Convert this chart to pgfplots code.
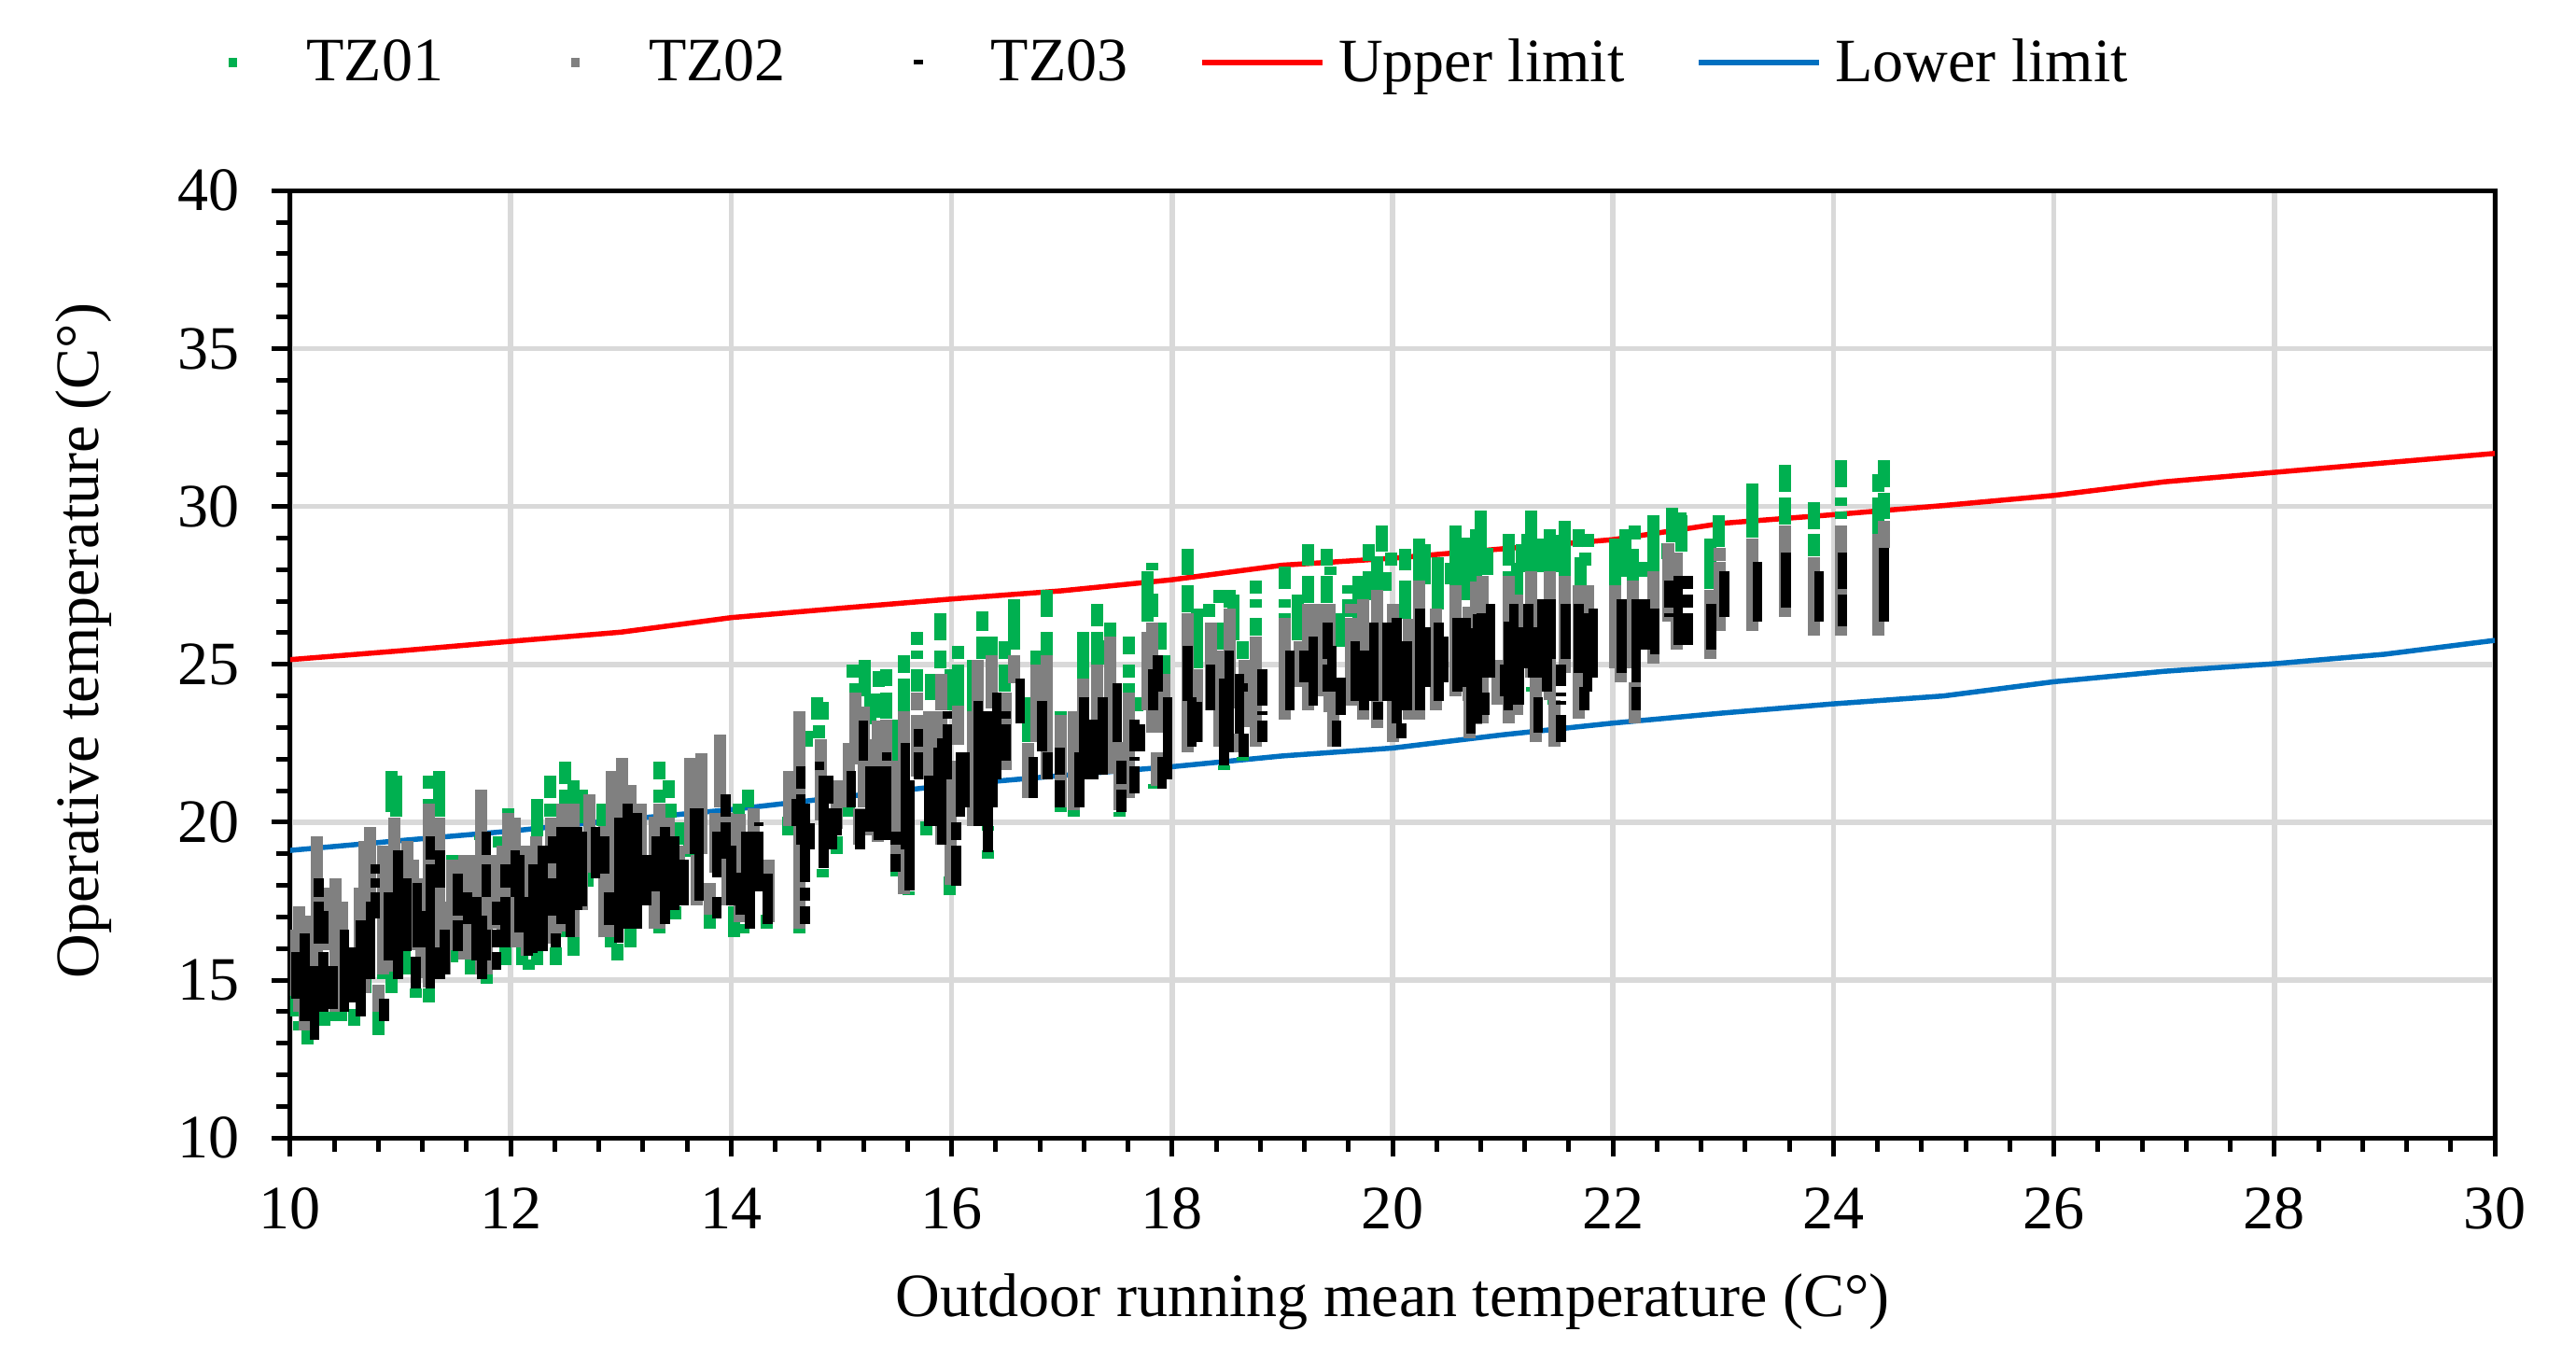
\documentclass[border=0pt]{standalone}
\usepackage{fontspec}
\setmainfont{Liberation Serif}
\usepackage{pgfplots}
\usepackage{pgfplotstable}
\pgfplotsset{compat=1.18}
\definecolor{tzgreen}{HTML}{00B050}
\definecolor{tzgray}{HTML}{808080}
\definecolor{limblue}{HTML}{0070C0}
\definecolor{gridgray}{HTML}{D9D9D9}
\newcommand{\chartfont}{\fontsize{18.8}{22}\selectfont}

% each row is one stack of readings at one running mean: x, lowest, highest
\pgfplotstableread{
x lo hi
10.03 14.00 14.68
10.05 13.85 14.39
10.08 13.41 13.70
10.16 12.97 13.41
10.31 13.55 14.00
10.41 13.70 14.09
10.46 13.70 14.29
10.58 13.55 14.09
10.80 13.26 14.00
10.68 14.58 15.27
10.84 15.03 15.76
10.92 14.58 15.27
11.04 15.17 15.96
11.14 14.44 14.73
11.26 14.29 14.73
10.22 15.91 16.30
10.92 20.32 21.61
10.96 20.17 21.47
11.26 21.05 21.47
11.26 20.56 20.73
11.35 20.17 21.61
11.47 18.80 18.97
11.72 19.43 19.58
11.98 20.27 20.44
11.89 19.19 19.55
12.24 19.56 20.73
12.36 20.76 21.47
12.36 20.17 20.58
12.49 21.20 21.91
12.49 20.56 21.03
12.57 20.56 21.32
12.43 19.73 20.00
11.47 15.56 16.15
11.64 15.17 15.91
11.78 14.88 15.17
11.95 15.47 16.05
12.10 15.47 16.05
12.16 15.32 15.66
12.24 15.47 16.05
12.41 15.47 16.05
12.51 16.35 16.64
12.57 15.76 16.35
12.70 17.97 18.41
12.65 19.98 21.02
12.83 19.88 20.58
12.85 16.35 16.93
12.91 16.05 16.64
12.97 15.61 16.17
13.09 16.05 16.64
13.35 21.35 21.91
13.43 20.76 21.32
13.35 20.61 21.02
13.45 20.14 20.58
13.53 19.29 19.99
13.35 16.49 16.93
13.49 16.93 17.35
13.62 18.90 19.44
13.81 16.64 17.08
14.15 20.47 21.02
14.07 19.88 20.58
14.03 16.35 17.35
14.11 16.49 16.79
14.32 16.64 17.08
14.52 19.58 20.17
14.62 16.49 16.93
14.69 22.38 22.90
14.78 23.26 23.97
14.83 23.26 23.82
14.80 22.67 23.08
14.83 18.26 18.52
14.96 18.99 19.55
15.10 24.58 24.99
15.21 23.99 25.14
15.13 24.09 24.41
15.26 23.11 24.09
15.07 20.17 20.66
15.34 24.29 24.78
15.33 23.31 24.09
15.41 24.30 24.86
15.41 23.27 24.10
15.49 21.94 23.24
15.57 24.74 25.30
15.57 23.53 24.56
15.69 25.62 26.03
15.69 25.18 25.44
15.69 24.15 24.86
15.81 23.86 24.71
15.90 25.77 26.63
15.90 24.88 25.44
15.99 23.56 24.86
16.06 25.18 25.59
16.06 23.61 25.00
16.19 23.53 25.15
16.28 26.06 26.69
16.28 25.18 25.89
16.36 25.30 25.89
16.48 25.18 25.74
16.48 24.15 25.00
16.57 25.47 27.06
16.69 22.53 23.97
16.77 24.98 25.44
16.86 26.50 27.36
16.86 25.30 26.04
16.99 23.39 23.53
16.99 20.33 20.47
17.19 24.54 26.03
17.32 26.21 26.92
17.32 24.98 26.03
17.44 25.89 26.33
17.39 24.98 25.77
17.61 25.33 25.89
17.61 24.59 25.00
17.61 24.12 24.41
17.68 23.52 23.97
17.78 26.36 27.95
17.82 27.97 28.22
17.82 26.50 27.24
17.90 25.47 26.33
17.93 24.71 25.30
17.11 20.18 20.77
17.52 20.18 20.33
16.33 19.74 19.89
16.33 18.85 19.10
15.50 18.27 18.42
15.61 17.68 17.82
15.98 17.68 18.27
15.77 19.59 20.03
17.84 21.05 21.20
18.14 27.82 28.67
18.14 26.64 27.50
18.23 24.88 26.76
18.34 26.50 26.91
18.43 26.94 27.35
18.43 25.47 26.32
18.52 26.79 27.35
18.56 25.76 27.20
18.64 25.17 25.73
18.64 21.95 22.06
18.47 21.64 21.79
18.76 27.23 27.64
18.76 26.79 27.06
18.76 25.91 26.47
19.02 27.38 28.09
19.02 26.79 27.06
19.02 26.47 26.62
19.14 25.76 27.20
19.23 28.12 28.82
19.23 26.94 27.79
19.40 28.12 28.67
19.44 27.82 28.09
19.40 26.94 27.79
19.51 25.57 26.62
19.60 27.23 27.50
19.60 26.50 27.06
19.69 26.45 27.79
19.78 28.26 28.82
19.78 27.04 27.94
19.90 28.56 29.39
19.86 27.33 28.41
19.99 28.12 28.53
19.94 27.33 27.92
20.11 27.97 28.67
20.11 26.45 27.64
20.24 27.62 28.97
20.29 27.53 28.82
20.41 26.74 28.38
20.53 27.53 28.23
20.57 27.48 29.39
20.67 27.04 29.00
20.76 27.62 29.29
20.80 27.83 29.86
20.86 27.83 28.68
21.05 28.12 29.12
21.05 27.77 27.94
21.13 27.21 28.22
21.26 27.92 29.86
21.22 27.92 29.12
21.17 27.92 28.80
21.43 27.92 29.27
21.34 27.92 28.97
21.56 27.78 29.56
21.49 27.92 29.10
21.69 28.71 29.27
21.77 28.71 29.12
21.75 28.12 28.53
21.71 27.48 28.39
22.02 27.48 28.97
22.11 27.78 29.27
22.20 28.95 29.41
22.18 27.65 28.66
22.28 27.78 28.24
22.37 27.92 29.71
22.49 28.32 28.83
22.54 29.24 29.96
22.61 29.24 29.80
22.54 28.86 29.41
22.62 28.56 29.71
22.88 27.38 28.97
22.96 29.11 29.72
22.96 29.30 29.71
22.96 28.71 29.12
23.26 29.00 30.74
21.27 24.15 24.27
21.46 23.71 23.86
23.56 30.47 31.33
23.56 29.44 30.29
23.82 29.29 30.15
23.82 28.41 29.12
24.07 30.62 31.47
24.07 30.03 30.29
24.07 29.59 29.85
24.07 28.12 28.27
24.41 30.47 31.03
24.46 30.62 31.47
24.41 29.12 30.29
24.46 29.59 30.44
}\tzone

\pgfplotstableread{
x lo hi
10.04 14.49 16.59
10.08 14.00 17.35
10.13 13.41 17.05
10.24 14.98 19.55
10.31 15.96 17.94
10.41 14.00 18.23
10.47 14.19 17.50
10.63 14.58 17.94
10.67 14.58 19.41
10.72 16.94 19.85
10.80 14.00 14.85
10.84 15.17 19.26
10.94 15.27 20.14
11.06 15.96 19.41
11.11 15.96 18.82
11.19 15.07 18.23
11.26 14.78 20.58
11.35 15.17 20.14
11.40 15.17 17.50
11.47 15.96 18.82
11.58 15.66 18.97
11.64 15.66 18.97
11.73 15.17 21.03
11.78 15.17 18.97
11.83 16.64 18.97
11.93 16.05 19.26
11.98 16.05 20.29
12.04 16.05 20.14
12.15 15.76 19.26
12.23 15.96 19.55
12.37 16.15 20.14
12.41 16.45 20.14
12.47 16.55 20.58
12.57 16.35 20.58
12.65 17.23 19.71
12.71 18.41 20.88
12.85 16.35 19.88
12.92 16.35 21.61
13.01 16.64 22.05
13.09 16.64 21.17
13.18 18.41 20.58
13.31 16.64 20.17
13.35 16.64 20.58
13.43 18.21 20.14
13.53 18.21 19.26
13.63 19.00 22.05
13.69 17.38 18.97
13.73 19.00 22.20
13.81 17.08 18.08
13.86 18.41 20.29
13.90 20.47 22.79
13.97 17.38 20.29
14.08 16.84 20.27
14.20 18.41 20.44
14.34 16.84 18.82
14.53 19.88 21.61
14.62 16.64 23.52
14.81 20.07 22.64
14.96 19.78 21.32
15.07 20.47 22.50
15.13 21.84 24.11
15.16 19.29 20.44
15.20 20.47 23.67
15.27 19.58 22.62
15.33 19.39 23.21
15.41 20.38 23.24
15.50 18.42 21.94
15.57 17.73 23.53
15.69 23.56 24.12
15.69 21.46 23.39
15.80 21.36 23.53
15.91 23.56 24.71
15.91 19.30 23.53
15.99 18.02 21.94
16.06 22.44 23.68
16.19 19.89 23.53
16.24 23.51 25.15
16.36 23.61 25.30
16.49 21.65 24.12
16.57 24.40 25.30
16.69 20.77 22.50
16.77 22.53 25.00
16.86 21.36 25.30
16.99 20.47 23.39
17.11 20.38 23.53
17.19 23.51 24.56
17.32 21.55 25.00
17.44 21.55 25.89
17.52 20.38 22.53
17.61 20.77 24.12
17.78 23.56 26.03
17.82 22.83 26.33
17.86 21.16 22.21
17.93 22.83 24.71
18.14 22.23 26.62
18.23 22.53 24.85
18.35 23.56 26.32
18.43 22.38 25.44
18.52 23.60 26.76
18.56 22.23 22.82
18.66 23.02 25.14
18.76 22.38 25.88
19.02 23.26 26.47
19.16 24.29 25.73
19.23 23.56 26.91
19.33 24.00 26.91
19.43 23.50 26.91
19.46 22.38 23.50
19.62 23.70 26.47
19.62 26.62 26.91
19.73 23.26 27.06
19.86 22.97 27.35
20.00 22.53 26.91
20.15 23.26 26.45
20.24 23.26 27.64
20.39 23.56 26.76
20.57 24.00 27.50
20.69 23.85 26.84
20.70 22.67 24.00
20.76 23.10 27.62
20.82 23.12 27.80
20.95 23.71 25.15
21.05 23.12 27.80
21.13 23.41 27.21
21.26 24.59 27.94
21.30 22.53 24.59
21.43 23.86 27.94
21.47 22.39 23.86
21.56 24.74 27.80
21.69 23.27 27.50
21.77 25.28 27.50
22.02 24.89 27.50
22.07 24.44 24.89
22.18 24.89 27.65
22.20 23.12 24.44
22.37 25.03 27.94
22.50 26.36 28.83
22.58 25.47 28.53
22.88 25.18 27.36
22.97 28.27 28.68
22.97 26.06 28.24
23.26 26.06 28.97
23.56 26.50 29.41
23.82 25.91 28.38
24.07 25.91 29.41
24.41 25.91 29.12
24.46 28.70 29.56
}\tztwo

\pgfplotstableread{
x lo hi
10.05 14.41 15.88
10.13 13.70 16.47
10.22 13.11 15.44
10.26 17.64 18.23
10.26 16.17 17.50
10.30 16.17 17.20
10.30 14.00 15.88
10.39 14.09 15.44
10.49 14.00 16.61
10.56 14.29 16.03
10.64 13.85 16.91
10.73 15.03 17.50
10.77 16.94 17.79
10.77 18.38 18.67
10.77 17.94 18.23
10.85 13.70 14.41
10.89 15.61 17.79
10.98 15.03 19.11
11.06 15.91 18.23
11.15 16.05 18.08
11.14 14.73 15.73
11.23 16.05 17.20
11.27 18.82 19.55
11.27 14.73 18.67
11.36 17.94 19.11
11.36 15.03 16.03
11.40 15.17 16.61
11.52 17.05 18.38
11.52 15.91 16.91
11.61 16.79 17.79
11.69 15.61 17.64
11.74 15.03 17.05
11.78 18.97 19.70
11.78 17.64 18.67
11.78 15.61 16.61
11.87 16.76 17.50
11.87 16.05 16.61
11.87 15.32 15.88
11.95 17.94 18.67
11.95 16.05 17.64
12.04 17.64 19.11
12.08 16.50 18.97
12.16 15.76 17.64
12.20 15.86 18.67
12.29 15.91 19.26
12.38 19.26 19.55
12.38 18.70 19.26
12.38 17.04 18.23
12.41 16.05 16.47
12.46 16.79 19.85
12.54 16.35 19.85
12.61 17.23 19.85
12.65 17.35 19.70
12.77 18.23 19.85
12.85 18.38 19.55
12.89 16.74 17.79
12.98 16.20 20.14
13.06 16.64 20.58
13.15 16.64 20.29
13.23 17.38 18.97
13.32 17.82 19.55
13.40 16.79 19.85
13.49 17.23 19.55
13.57 17.38 18.82
13.71 17.52 20.44
13.67 18.98 20.44
13.87 16.94 17.64
13.87 18.26 19.70
13.95 20.17 20.88
13.95 18.85 19.99
14.00 17.38 19.26
14.08 17.08 18.41
14.13 18.06 19.70
14.17 16.64 19.70
14.25 19.88 20.00
14.25 17.82 19.70
14.33 16.79 18.38
14.59 19.88 20.73
14.63 21.05 21.76
14.63 19.29 20.88
14.67 18.11 20.58
14.67 17.53 17.94
14.67 16.79 17.35
14.71 19.14 19.98
14.80 21.64 21.91
14.84 18.55 21.47
14.88 20.58 21.47
14.92 19.14 20.44
14.96 19.58 20.44
15.09 20.47 21.61
15.17 19.14 20.42
15.20 21.94 23.23
15.26 19.70 21.76
15.34 19.44 21.76
15.41 21.95 22.21
15.41 19.45 21.77
15.49 19.30 19.71
15.49 18.42 18.98
15.58 19.15 22.50
15.62 17.83 21.33
15.70 22.39 22.95
15.70 21.36 22.21
15.79 19.89 21.47
15.88 19.89 22.36
15.91 19.30 22.65
15.96 23.27 23.53
15.96 21.36 23.09
16.04 19.45 20.00
16.04 17.98 19.27
16.08 20.18 22.21
16.12 20.47 22.21
16.24 19.89 23.83
16.33 19.05 23.53
16.37 20.47 23.09
16.41 21.36 24.12
16.49 23.27 23.53
16.49 21.95 23.09
16.62 23.12 24.56
16.74 20.77 22.06
16.82 22.24 23.83
16.87 21.36 22.21
16.98 21.50 22.36
16.98 20.47 21.33
17.16 20.47 22.21
17.20 21.36 23.97
17.29 21.36 23.24
17.37 21.50 23.97
17.50 22.53 24.41
17.54 21.21 21.95
17.54 20.33 21.03
17.66 22.24 23.24
17.66 21.95 22.06
17.66 20.92 21.77
17.71 22.24 23.09
17.83 23.56 24.86
17.87 24.15 25.30
17.91 21.06 22.06
17.96 21.36 23.97
18.14 23.85 25.59
18.18 22.38 23.97
18.23 22.53 23.82
18.35 23.56 25.00
18.47 21.79 24.56
18.52 22.23 25.44
18.61 22.82 24.70
18.64 24.14 24.39
18.65 22.08 22.82
18.82 23.70 24.85
18.82 23.41 23.53
18.82 22.53 23.23
19.07 23.56 25.44
19.20 24.44 25.44
19.28 23.70 25.88
19.41 25.17 26.32
19.41 24.14 25.00
19.45 24.14 25.59
19.53 23.41 24.59
19.49 22.38 23.23
19.66 23.85 25.73
19.74 23.56 25.44
19.83 23.85 26.32
19.87 23.26 23.82
19.95 23.85 26.32
20.04 23.12 26.47
20.08 22.67 23.12
20.13 23.56 25.73
20.25 23.56 26.76
20.30 24.29 26.17
20.42 23.85 26.32
20.46 24.44 25.88
20.59 24.14 26.47
20.67 24.29 26.47
20.71 22.82 26.15
20.77 23.12 26.60
20.81 24.59 26.62
20.89 24.59 26.92
20.84 23.41 24.12
21.02 24.00 25.00
21.05 23.56 26.36
21.10 23.71 26.92
21.15 23.71 26.18
21.23 24.89 26.92
21.27 24.59 26.18
21.36 24.59 27.06
21.32 22.83 23.97
21.40 24.15 27.06
21.44 25.18 27.06
21.53 24.30 25.00
21.53 24.00 24.12
21.53 23.71 23.83
21.53 22.53 23.39
21.57 25.18 26.92
21.69 24.74 26.92
21.74 23.56 24.27
21.77 24.15 26.62
21.82 24.59 26.77
22.08 24.74 27.06
22.21 24.44 27.06
22.21 23.56 24.27
22.29 25.47 27.06
22.38 25.33 26.77
22.51 26.80 27.65
22.51 26.50 26.62
22.59 25.62 27.80
22.68 27.38 27.80
22.68 26.80 27.21
22.68 25.62 26.62
22.89 25.47 26.92
23.01 26.50 27.94
23.31 26.36 28.24
23.57 26.79 28.53
23.87 26.35 27.94
24.08 27.38 28.53
24.08 26.20 27.21
24.46 26.35 28.68
}\tzthree

\begin{document}
\begin{tikzpicture}
\path[use as bounding box] (-3.11cm,-2.367cm) rectangle (24.49cm,12.193cm);
\begin{axis}[
    at={(0,0)}, anchor=south west,
    scale only axis,
    width=23.62cm, height=10.15cm,
    xmin=10, xmax=30, ymin=10, ymax=40,
    xtick={10,12,...,30}, ytick={10,15,...,40},
    minor x tick num=4, minor y tick num=4,
    tick align=outside, xtick pos=bottom, ytick pos=left,
    major tick length=0.2cm, minor tick length=0.15cm,
    every tick/.style={black, line width=0.05cm},
    axis line style={black, line width=0.05cm},
    xmajorgrids, ymajorgrids,
    major grid style={gridgray, line width=0.055cm},
    /pgf/number format/assume math mode=true,
    tick label style={font=\chartfont},
    label style={font=\chartfont},
    xticklabel style={inner sep=0pt, yshift=-0.33cm},
    yticklabel style={inner sep=0pt, xshift=-0.34cm},
    xlabel={Outdoor running mean temperature (C°)},
    ylabel={Operative temperature (C°)},
    xlabel style={at={(axis description cs:0.5,0)}, anchor=center, yshift=-1.75cm},
    ylabel style={at={(axis description cs:0,0.5)}, anchor=center, xshift=0.25cm, yshift=2.21cm},
    legend columns=5,
    legend cell align=left,
    legend style={
        at={(axis description cs:-0.0532,1.1354)}, anchor=west,
        draw=none, fill=none, font=\chartfont,
        inner sep=0pt, outer sep=0pt,
        nodes={inner sep=0pt},
        /tikz/every odd column/.append style={column sep=0.14cm},
        /tikz/every even column/.append style={column sep=0.77cm},
    },
]
% the limits lie under the stacks
\addplot[forget plot, red, line width=0.055cm] coordinates {
    (10,25.15) (11,25.43) (12,25.73) (13,26.02) (14,26.48) (15,26.78) (16,27.07) (17,27.33) (18,27.68)
    (19,28.14) (20,28.36) (21,28.66) (22,28.95) (23,29.47) (24,29.74) (25,30.03) (26,30.35) (27,30.78)
    (28,31.08) (29,31.38) (30,31.68)};
\addplot[forget plot, limblue, line width=0.055cm] coordinates {
    (10,19.11) (11,19.42) (12,19.72) (13,20.08) (14,20.40) (15,20.80) (16,21.18) (17,21.48) (18,21.76)
    (19,22.10) (20,22.35) (21,22.77) (22,23.14) (23,23.46) (24,23.75) (25,24.00) (26,24.45) (27,24.78)
    (28,25.02) (29,25.32) (30,25.76)};

\addplot[forget plot, draw=none, mark=none,
    error bars/.cd, y dir=plus, y explicit, error mark=none,
    error bar style={tzgreen, line width=0.13cm}]
    table[x=x, y=lo, y error plus expr=\thisrow{hi}-\thisrow{lo}] {\tzone};
\addplot[forget plot, draw=none, mark=none,
    error bars/.cd, y dir=plus, y explicit, error mark=none,
    error bar style={tzgray, line width=0.13cm}]
    table[x=x, y=lo, y error plus expr=\thisrow{hi}-\thisrow{lo}] {\tztwo};
\addplot[forget plot, draw=none, mark=none,
    error bars/.cd, y dir=plus, y explicit, error mark=none,
    error bar style={black, line width=0.105cm}]
    table[x=x, y=lo, y error plus expr=\thisrow{hi}-\thisrow{lo}] {\tzthree};

\addlegendimage{legend image code/.code={\path[draw=none] (0,0) -- (1.29cm,0); \fill[tzgreen, draw=none] (0.6cm,-0.05cm) rectangle (0.69cm,0.05cm);}}
\addlegendimage{legend image code/.code={\path[draw=none] (0,0) -- (1.29cm,0); \fill[tzgray, draw=none] (0.6cm,-0.05cm) rectangle (0.69cm,0.05cm);}}
\addlegendimage{legend image code/.code={\path[draw=none] (0,0) -- (1.29cm,0); \fill[black, draw=none] (0.6cm,-0.025cm) rectangle (0.7cm,0.025cm);}}
\addlegendimage{legend image code/.code={\draw[red, line width=0.055cm] (0,0) -- (1.29cm,0);}}
\addlegendimage{legend image code/.code={\draw[limblue, line width=0.055cm] (0,0) -- (1.29cm,0);}}
\legend{TZ01, TZ02, TZ03, Upper limit, Lower limit}
\end{axis}
\end{tikzpicture}
\end{document}
